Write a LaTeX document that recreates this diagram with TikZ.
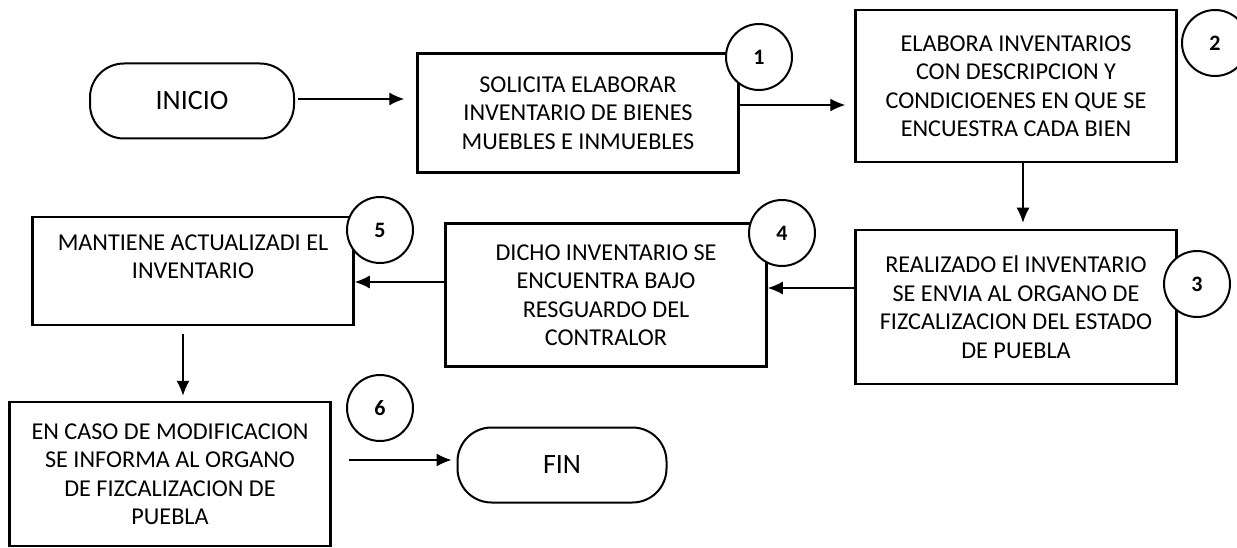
\documentclass[tikz,border=0pt]{standalone}
\usepackage{fontspec}
\setmainfont{Carlito}
\usetikzlibrary{arrows.meta,positioning}
\tikzset{>={Latex[length=15pt,width=13pt]}}
\tikzset{
  proceso/.style={draw, line width=2.5pt, align=center, inner sep=0pt,
    minimum width=321pt, font=\fontsize{24.2}{28.5}\selectfont},
  terminal/.style={draw, line width=2pt, rounded corners=34pt,
    minimum height=75pt, font=\fontsize{28}{34}\selectfont},
  paso/.style={circle, draw, fill=white, line width=2pt, minimum size=66pt,
    inner sep=0pt, font=\bfseries\fontsize{22}{26}\selectfont},
  flecha/.style={->, line width=1.3pt}
}

\begin{document}
\begin{tikzpicture}[x=1pt,y=-1pt]
  \useasboundingbox (0,0) rectangle (1237,548);
  % inicio y fin
  \node[terminal, minimum width=204pt] (inicio) at (192,101) {INICIO};
  \node[terminal, minimum width=209pt] (fin) at (562,465) {FIN};
  % cajas de proceso
  \node[proceso, minimum height=119pt] (solicita) at (578,113)
    {SOLICITA ELABORAR\\INVENTARIO DE BIENES\\MUEBLES E INMUEBLES};
  \node[proceso, minimum height=152pt] (elabora) at (1016,86)
    {ELABORA INVENTARIOS\\CON DESCRIPCION Y\\CONDICIOENES EN QUE SE\\ENCUESTRA CADA BIEN};
  \node[proceso, minimum height=154pt] (realizado) at (1016,307)
    {REALIZADO El INVENTARIO\\SE ENVIA AL ORGANO DE\\FIZCALIZACION DEL ESTADO\\DE PUEBLA};
  \node[proceso, minimum height=143pt] (resguardo) at (606,295)
    {DICHO INVENTARIO SE\\ENCUENTRA BAJO\\RESGUARDO DEL\\CONTRALOR};
  \node[proceso, minimum height=108pt] (mantiene) at (193,271)
    {MANTIENE ACTUALIZADI EL\\INVENTARIO\\\mbox{}};
  \node[proceso, minimum height=144pt] (informa) at (170,474)
    {EN CASO DE MODIFICACION\\SE INFORMA AL ORGANO\\DE FIZCALIZACION DE\\PUEBLA};
  % numeros de paso
  \node[paso] (n1) at (759,57) {1};
  \node[paso] (n2) at (1215,43) {2};
  \node[paso] (n3) at (1197,284) {3};
  \node[paso] (n4) at (782,233) {4};
  \node[paso] (n5) at (380,230) {5};
  \node[paso] (n6) at (380,408) {6};
  % flechas
  \draw[flecha, shorten <=3pt, shorten >=12pt] ([yshift=2pt]inicio.east) -- ([yshift=2pt]inicio.east -| solicita.west);
  \draw[flecha, shorten >=9pt] ([yshift=8pt]solicita.east) -- ([yshift=8pt]solicita.east -| elabora.west);
  \draw[flecha, shorten >=6pt] ([xshift=7pt]elabora.south) -- ([xshift=7pt]elabora.south |- realizado.north);
  \draw[flecha] ([yshift=19pt]realizado.west) -- ([yshift=19pt]realizado.west -| resguardo.east);
  \draw[flecha] ([yshift=13pt]resguardo.west) -- ([yshift=13pt]resguardo.west -| mantiene.east);
  \draw[flecha, shorten <=8pt, shorten >=5pt] ([xshift=-10pt]mantiene.south) -- ([xshift=-10pt]mantiene.south |- informa.north);
  \draw[flecha, shorten <=17pt, shorten >=5pt] ([yshift=14pt]informa.east) -- ([yshift=14pt]informa.east -| fin.west);
\end{tikzpicture}
\end{document}
